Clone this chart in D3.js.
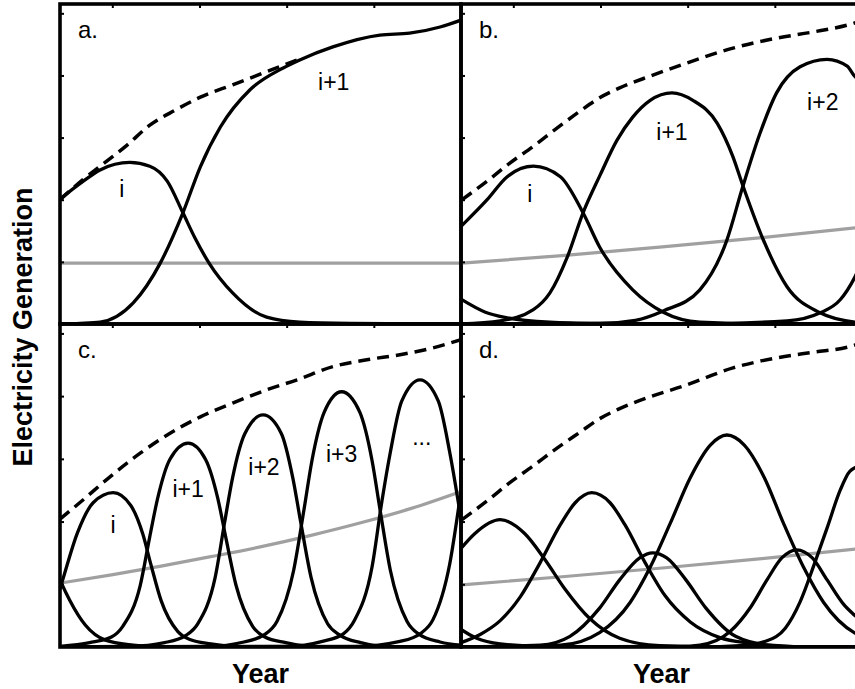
<!DOCTYPE html>
<html>
<head>
<meta charset="utf-8">
<script src="https://cdn.jsdelivr.net/npm/d3@7"></script>
<style>
  body { margin: 0; background: #fff; }
  text { font-family: "Liberation Sans", Arial, sans-serif; }
</style>
</head>
<body>
<svg id="chart"></svg>
<script>
// axis ticks (no labels in the figure)
const xTicks = [2010, 2020, 2030, 2040, 2050];
const yTicks = [1, 2, 3, 4, 5];

// panel a: two technologies
const aTotal = [[2004, 2.0], [2006.6, 2.32], [2008.6, 2.54], [2011.7, 2.88], [2014.3, 3.2], [2017.2, 3.44], [2020.1, 3.65], [2023.8, 3.85], [2027.7, 4.06], [2031.2, 4.25]];
const aTechI = [[2004, 2.01], [2006.6, 2.29], [2008.6, 2.48], [2012, 2.6], [2014.3, 2.54], [2016.3, 2.3], [2018.1, 1.79], [2019.5, 1.38], [2021.1, 0.98], [2023.8, 0.5], [2027.7, 0.11], [2031.5, 0.03], [2037.3, 0.01], [2050, 0]];
const aTechI1 = [[2004, 0], [2006.3, 0.01], [2008.6, 0.03], [2012.4, 0.34], [2015.5, 0.98], [2018.1, 1.79], [2020.1, 2.53], [2022.4, 3.17], [2025.8, 3.77], [2029.6, 4.12], [2031.5, 4.25], [2035.3, 4.46], [2040.7, 4.65], [2044.1, 4.68], [2047.6, 4.78], [2050, 4.89]];
const aGray = [[2004, 0.98], [2050, 0.98]];
const aLabels = [["i", 2011.1, 2.04], ["i+1", 2035.4, 3.77]];

// panel b: wider bells
const bTotal = [[2004.1, 2.0], [2007, 2.3], [2009.6, 2.59], [2012.3, 2.86], [2014.9, 3.14], [2017.7, 3.43], [2019.9, 3.64], [2022.2, 3.8], [2025.7, 3.99], [2029.5, 4.18], [2035.2, 4.44], [2040.2, 4.6], [2044.4, 4.7], [2048.3, 4.81], [2050, 4.88]];
const bPrev = [[2004, 0.4], [2006.8, 0.19], [2009.3, 0.1], [2014.2, 0.03], [2019.9, 0.01], [2031.4, 0], [2050, 0]];
const bTechI = [[2004, 1.57], [2007, 2.0], [2009.3, 2.37], [2012.3, 2.54], [2015.4, 2.37], [2018, 1.79], [2019.9, 1.24], [2023.7, 0.55], [2027.2, 0.19], [2031.4, 0.03], [2039.1, 0], [2050, 0]];
const bTechI1 = [[2004, 0], [2008.5, 0.05], [2012.3, 0.23], [2014.2, 0.5], [2016.2, 1.08], [2018, 1.79], [2019.9, 2.38], [2021.9, 2.96], [2023.7, 3.33], [2025.7, 3.6], [2028.2, 3.72], [2030.6, 3.6], [2033.4, 3.23], [2035.2, 2.69], [2036.3, 2.24], [2038.6, 1.38], [2041.4, 0.6], [2045.2, 0.18], [2049.2, 0.03], [2050, 0.02]];
const bTechI2 = [[2004, 0], [2019.9, 0.01], [2024, 0.06], [2027.2, 0.21], [2031.4, 0.55], [2034.5, 1.35], [2036.3, 2.2], [2038.3, 3.07], [2040.2, 3.72], [2042.9, 4.14], [2046, 4.26], [2048.3, 4.15], [2049.2, 3.98], [2050, 3.9]];
const bTechI3 = [[2004, 0], [2030, 0], [2041.4, 0.05], [2045.2, 0.18], [2047.5, 0.39], [2049.2, 0.76], [2050, 1.0]];
const bGray = [[2004.1, 0.98], [2015.6, 1.1], [2027.1, 1.24], [2038.5, 1.39], [2050, 1.56]];
const bLabels = [["i", 2011.9, 1.96], ["i+1", 2028.2, 2.96], ["i+2", 2045.5, 3.44]];

// panel c: narrow bells, growing peaks
const cTotal = [[2004, 2.04], [2006.6, 2.34], [2009.7, 2.71], [2013.2, 3.09], [2016.3, 3.38], [2020.1, 3.67], [2023.8, 3.89], [2027.7, 4.1], [2031.2, 4.26], [2035.3, 4.47], [2039.2, 4.58], [2043, 4.66], [2046.8, 4.77], [2050, 4.9]];
const cPrev = [[2002.9, 1.45], [2004, 1.07], [2005.1, 0.75], [2006.9, 0.35], [2009.2, 0.11], [2012.4, 0.03], [2016, 0], [2050, 0]];
const cTechI = [[2003.5, 0.75], [2004, 0.93], [2004.2, 1.02], [2006, 1.82], [2007.8, 2.3], [2010.1, 2.46], [2012.1, 2.26], [2013.5, 1.8], [2014.4, 1.33], [2015.6, 0.74], [2017.5, 0.25], [2018.9, 0.12], [2021.3, 0.05], [2025.2, 0], [2050, 0]];
const cTechI1 = [[2004, 0.01], [2007.4, 0.07], [2009.9, 0.16], [2011.2, 0.33], [2013.2, 0.98], [2014.3, 1.76], [2015.2, 2.37], [2016.6, 2.99], [2018.7, 3.25], [2020.7, 2.99], [2022.1, 2.37], [2023, 1.76], [2024.2, 0.98], [2026.1, 0.33], [2027.5, 0.16], [2029.9, 0.07], [2033.8, 0], [2050, 0]];
const cTechI2 = [[2004, 0], [2012, 0.01], [2016, 0.07], [2018.5, 0.19], [2019.8, 0.37], [2021.8, 1.11], [2022.9, 2.0], [2023.8, 2.7], [2025.2, 3.4], [2027.3, 3.7], [2029.4, 3.4], [2030.7, 2.7], [2031.6, 2.0], [2032.8, 1.11], [2034.7, 0.37], [2036.1, 0.19], [2038.5, 0.07], [2042.4, 0], [2050, 0]];
const cTechI3 = [[2004, 0], [2021, 0.01], [2025.1, 0.08], [2027.5, 0.2], [2028.9, 0.41], [2030.8, 1.22], [2032, 2.2], [2032.9, 2.97], [2034.3, 3.74], [2036.3, 4.07], [2038.4, 3.74], [2039.8, 2.97], [2040.7, 2.2], [2041.9, 1.22], [2043.8, 0.41], [2045.2, 0.2], [2047.6, 0.08], [2050.8, 0.02]];
const cDots = [[2004, 0], [2030, 0.01], [2034.1, 0.09], [2036.5, 0.21], [2037.8, 0.43], [2039.8, 1.28], [2040.9, 2.3], [2041.9, 3.11], [2043.2, 3.92], [2045.3, 4.26], [2047.4, 3.92], [2048.7, 3.11], [2049.7, 2.3], [2050.8, 1.28]];
const cNext = [[2004, 0], [2038, 0.01], [2043, 0.09], [2045.4, 0.22], [2046.8, 0.44], [2048.7, 1.32], [2049.9, 2.38], [2050.8, 3.2]];
const cGray = [[2004.1, 1.02], [2009.9, 1.15], [2015.6, 1.29], [2021.3, 1.44], [2027.1, 1.6], [2032.8, 1.78], [2038.5, 1.98], [2044.3, 2.21], [2050, 2.48]];
const cLabels = [["i", 2010.1, 1.82], ["i+1", 2018.7, 2.39], ["i+2", 2027.4, 2.74], ["i+3", 2036.3, 2.95], ["...", 2045.5, 3.22]];

// panel d: irregular bells
const dTotal = [[2004.1, 2.03], [2007, 2.33], [2009.6, 2.62], [2012.3, 2.89], [2014.9, 3.16], [2017.7, 3.43], [2019.9, 3.64], [2022.2, 3.8], [2025.7, 3.99], [2029.5, 4.16], [2035.2, 4.45], [2040.2, 4.61], [2044.4, 4.7], [2048.3, 4.78], [2050, 4.85]];
const dPrev = [[2002, 0.5], [2004, 0.28], [2005.8, 0.14], [2008.5, 0.05], [2013, 0.01], [2020, 0], [2050, 0]];
const dTech1 = [[2002, 1.2], [2004, 1.57], [2005.6, 1.81], [2008.5, 2.03], [2011.3, 1.81], [2013.6, 1.4], [2015.9, 0.93], [2018.8, 0.45], [2022.2, 0.14], [2026.8, 0.02], [2033.7, 0], [2050, 0]];
const dTech2 = [[2004, 0.07], [2006.2, 0.2], [2008.5, 0.42], [2010.8, 0.8], [2013.1, 1.35], [2015.4, 1.95], [2017.1, 2.3], [2019, 2.46], [2021.1, 2.3], [2022.8, 1.95], [2025.1, 1.35], [2027.4, 0.82], [2030.3, 0.4], [2033.7, 0.15], [2037.2, 0.06], [2042.9, 0], [2050, 0]];
const dTech3 = [[2004, 0], [2013.1, 0.03], [2016.5, 0.17], [2019.9, 0.62], [2022.2, 1.07], [2024.5, 1.42], [2026, 1.5], [2027.6, 1.42], [2029.8, 1.07], [2032.1, 0.62], [2035.5, 0.17], [2039.4, 0.03], [2045, 0], [2050, 0]];
const dTech4 = [[2004, 0], [2008.5, 0.01], [2015.4, 0.03], [2019.9, 0.23], [2023.4, 0.71], [2025.7, 1.27], [2028, 1.97], [2030.3, 2.7], [2032.6, 3.22], [2034.5, 3.38], [2036.5, 3.22], [2038.8, 2.7], [2041, 1.97], [2043.3, 1.27], [2045.6, 0.71], [2049.1, 0.23], [2050, 0.17]];
const dTech5 = [[2004, 0], [2029.1, 0.01], [2031.4, 0.03], [2034.9, 0.25], [2037.2, 0.63], [2039.1, 1.07], [2040.8, 1.42], [2042.5, 1.55], [2044.3, 1.42], [2046, 1.07], [2047.9, 0.68], [2049.2, 0.5], [2050, 0.4]];
const dTech6 = [[2004, 0], [2031.4, 0], [2036, 0.02], [2039.1, 0.1], [2041.2, 0.3], [2042.9, 0.72], [2044.6, 1.35], [2046, 1.9], [2047.5, 2.5], [2048.6, 2.8], [2050, 2.9]];
const dGray = [[2004.1, 0.99], [2015.6, 1.12], [2027.1, 1.26], [2038.5, 1.41], [2050, 1.57]];
const dLabels = [];

const panels = [
  { id: "a", left: 60, top: 4, h: 320, total: aTotal, curves: [aTechI, aTechI1], gray: aGray, labels: aLabels },
  { id: "b", left: 461, top: 4, h: 320, total: bTotal, curves: [bPrev, bTechI, bTechI1, bTechI2, bTechI3], gray: bGray, labels: bLabels },
  { id: "c", left: 60, top: 324, h: 323, total: cTotal, curves: [cPrev, cTechI, cTechI1, cTechI2, cTechI3, cDots, cNext], gray: cGray, labels: cLabels },
  { id: "d", left: 461, top: 324, h: 323, total: dTotal, curves: [dPrev, dTech1, dTech2, dTech3, dTech4, dTech5, dTech6], gray: dGray, labels: dLabels }
];

const width = 855, height = 689, panelW = 401;

const svg = d3.select("#chart")
  .attr("width", width)
  .attr("height", height);

panels.forEach(p => {
  const x = d3.scaleLinear().domain([2004, 2050]).range([0, panelW]);
  const y = d3.scaleLinear().domain([0, 5.15]).range([p.h, 0]);

  const g = svg.append("g").attr("transform", `translate(${p.left},${p.top})`);

  g.append("clipPath").attr("id", "clip-" + p.id)
    .append("rect").attr("width", panelW).attr("height", p.h);

  const plot = g.append("g").attr("clip-path", `url(#clip-${p.id})`);

  const line = d3.line()
    .x(d => x(d[0]))
    .y(d => y(d[1]))
    .curve(d3.curveMonotoneX);

  plot.append("path")
    .datum(p.gray)
    .attr("d", line)
    .style("fill", "none")
    .style("stroke", "#a0a0a0")
    .style("stroke-width", 3.2);

  p.curves.forEach(c => {
    plot.append("path")
      .datum(c)
      .attr("d", line)
      .style("fill", "none")
      .style("stroke", "#000")
      .style("stroke-width", 3.3);
  });

  plot.append("path")
    .datum(p.total)
    .attr("d", line)
    .style("fill", "none")
    .style("stroke", "#000")
    .style("stroke-width", 3.5)
    .style("stroke-dasharray", "12,7");

  // inward ticks on the left and top
  g.append("g")
    .call(d3.axisLeft(y).tickValues(yTicks).tickSize(-4).tickFormat(""))
    .call(a => a.select(".domain").remove())
    .selectAll("line").attr("stroke-width", 2);

  g.append("g")
    .call(d3.axisTop(x).tickValues(xTicks).tickSize(-4).tickFormat(""))
    .call(a => a.select(".domain").remove())
    .selectAll("line").attr("stroke-width", 2);

  g.append("rect")
    .attr("width", panelW)
    .attr("height", p.h)
    .style("fill", "none")
    .style("stroke", "#000")
    .style("stroke-width", 3.6);

  g.append("text")
    .attr("x", 18)
    .attr("y", 34)
    .style("font-size", "24px")
    .text(p.id + ".");

  g.selectAll(".lbl")
    .data(p.labels)
    .enter().append("text")
    .attr("class", "lbl")
    .attr("x", d => x(d[1]))
    .attr("y", d => y(d[2]))
    .style("text-anchor", "middle")
    .style("font-size", "23px")
    .text(d => d[0]);
});

// axis titles
[60, 461].forEach(left => {
  svg.append("text")
    .attr("x", left + panelW / 2)
    .attr("y", 683)
    .style("text-anchor", "middle")
    .style("font-size", "27px")
    .style("font-weight", "bold")
    .text("Year");
});

svg.append("text")
  .attr("transform", "translate(32,327) rotate(-90)")
  .style("text-anchor", "middle")
  .style("font-size", "27px")
  .style("font-weight", "bold")
  .text("Electricity Generation");
</script>
</body>
</html>
